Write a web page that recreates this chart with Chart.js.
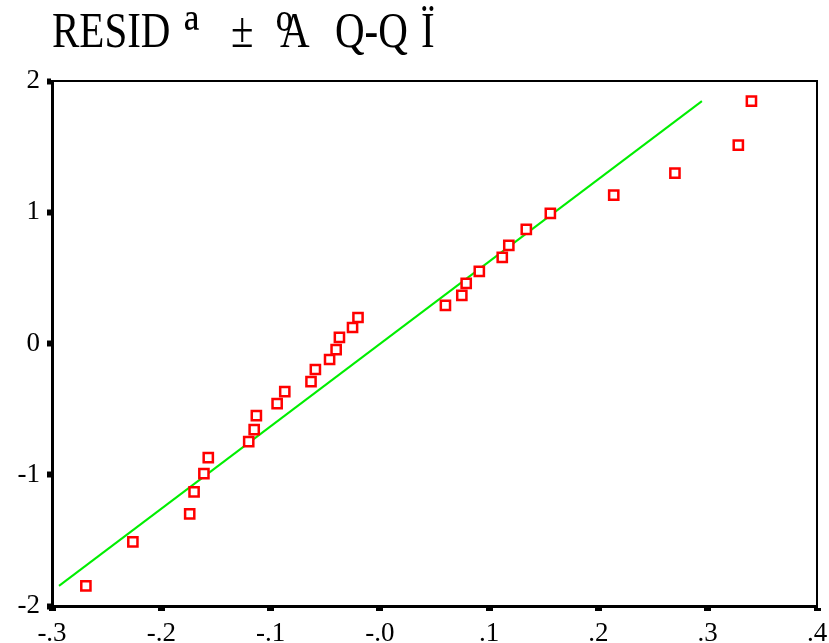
<!DOCTYPE html>
<html>
<head>
<meta charset="utf-8">
<script src="https://cdn.jsdelivr.net/npm/chart.js@4"></script>
<style>
  body { margin: 0; background: #fff; }
  #wrap { position: relative; width: 829px; height: 643px; }
  .t { position: absolute; top: 5px; font-family: "Liberation Serif", serif; font-size: 50px; line-height: 50px;
       color: #000; transform: scaleX(0.82); transform-origin: left top; white-space: pre; }
</style>
</head>
<body>
<div id="wrap">
  <canvas id="myChart" width="829" height="643"></canvas>
  <span class="t" style="left:52px">RESID</span>
  <span class="t" style="left:184px;top:1px;font-size:66px;line-height:66px">ª</span>
  <span class="t" style="left:231px">±</span>
  <span class="t" style="left:276px;top:1px;font-size:66px;line-height:66px">º</span>
  <span class="t" style="left:280px">A</span>
  <span class="t" style="left:335px">Q-Q</span>
  <span class="t" style="left:421px">Ï</span>
</div>
<script>
// observed residuals and expected normal values
const resid = [-0.269, -0.226, -0.174, -0.170, -0.161, -0.157, -0.120, -0.115, -0.113, -0.094,
               -0.087, -0.063, -0.059, -0.046, -0.040, -0.037, -0.025, -0.020, 0.060, 0.075,
               0.079, 0.091, 0.112, 0.118, 0.134, 0.156, 0.214, 0.270, 0.328, 0.340]
const expected = [-1.847, -1.511, -1.298, -1.130, -0.992, -0.870, -0.748, -0.656, -0.550, -0.458,
                  -0.366, -0.290, -0.198, -0.122, -0.046, 0.046, 0.122, 0.198, 0.290, 0.366,
                  0.458, 0.550, 0.656, 0.748, 0.870, 0.992, 1.130, 1.298, 1.511, 1.847]

// reference line
const lineX = [-0.2936, 0.2947]
const lineY = [-1.847, 1.847]

const xTickLabels = ['-.3', '-.2', '-.1', '-.0', '.1', '.2', '.3', '.4']
const yTickLabels = ['-2', '-1', '0', '1', '2']

const pts = resid.map((v, i) => ({ x: v, y: expected[i] }))
const linePts = lineX.map((v, i) => ({ x: v, y: lineY[i] }))

// box round the plot area
const frame = {
  id: 'frame',
  afterDraw(chart) {
    const a = chart.chartArea
    const c = chart.ctx
    c.save()
    c.strokeStyle = '#000'
    c.lineWidth = 2
    c.beginPath()
    c.moveTo(a.left, a.top)
    c.lineTo(a.right, a.top)
    c.lineTo(a.right, a.bottom)
    c.stroke()
    c.restore()
  }
}

const ctx = document.getElementById('myChart')
new Chart(ctx, {
  type: 'scatter',
  data: {
    datasets: [{
      data: pts,
      pointStyle: 'rect',
      pointRadius: 6.5,
      borderColor: '#ff0000',
      borderWidth: 2.5,
      backgroundColor: '#ffffff'
    }, {
      type: 'line',
      data: linePts,
      borderColor: '#00ee00',
      borderWidth: 2,
      pointRadius: 0,
      fill: false
    }]
  },
  options: {
    responsive: false,
    animation: false,
    layout: { padding: { left: 0, right: 12, top: 81, bottom: 0 } },
    plugins: { legend: { display: false }, tooltip: { enabled: false } },
    scales: {
      x: {
        type: 'linear',
        min: -0.3,
        max: 0.4,
        afterFit: s => { s.height = 37; s.paddingRight = 0; s.paddingLeft = 0 },
        border: { display: true, color: '#000', width: 3 },
        grid: { drawOnChartArea: false, drawTicks: true, tickLength: 5, tickWidth: 7, tickColor: '#000' },
        ticks: {
          stepSize: 0.1,
          padding: 7,
          color: '#000',
          font: { family: 'Liberation Serif', size: 27 },
          callback: (v, i) => xTickLabels[i]
        }
      },
      y: {
        min: -2,
        max: 2,
        afterFit: s => { s.width = 52; s.paddingTop = 0; s.paddingBottom = 0 },
        border: { display: true, color: '#000', width: 3 },
        grid: { drawOnChartArea: false, drawTicks: true, tickLength: 5, tickWidth: 6, tickColor: '#000' },
        ticks: {
          stepSize: 1,
          padding: 7,
          color: '#000',
          font: { family: 'Liberation Serif', size: 27 },
          callback: (v, i) => yTickLabels[i]
        }
      }
    }
  },
  plugins: [frame]
})
</script>
</body>
</html>
